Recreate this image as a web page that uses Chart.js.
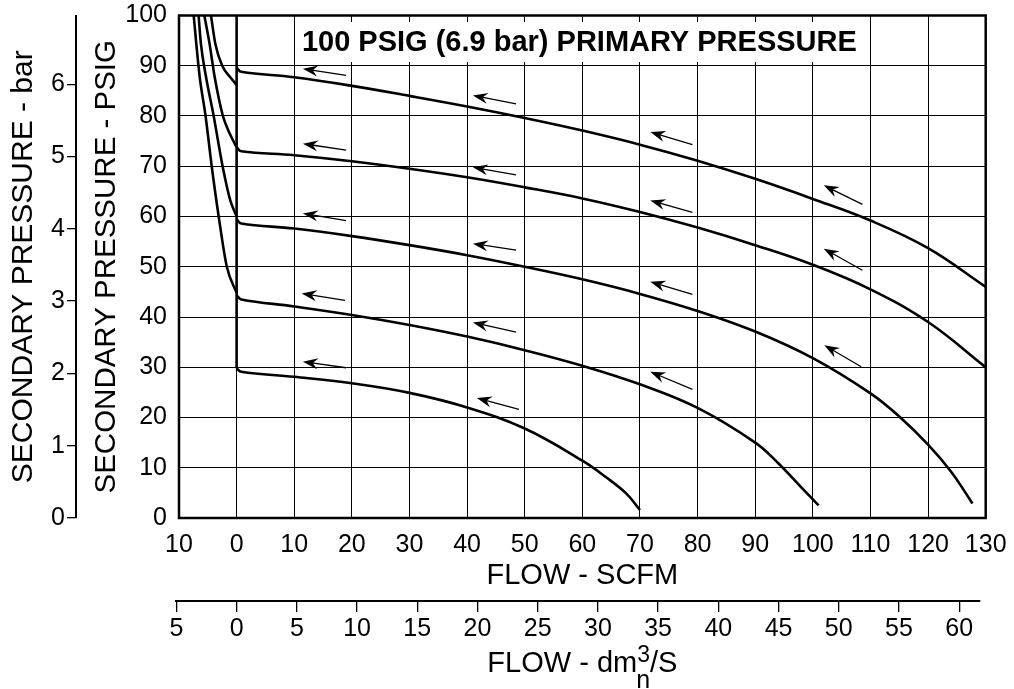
<!DOCTYPE html>
<html lang="en">
<head>
<meta charset="UTF-8">
<title>Secondary pressure vs flow - 100 PSIG primary</title>
<script src="https://cdn.jsdelivr.net/npm/chart.js"></script>
<style>
    body { margin: 0; background: #fff; }
    canvas { display: block; }
</style>
</head>
<body>
<canvas id="flowChart" width="1014" height="689"></canvas>
<script>
// tick labels
const scfmTicks = [-10, 0, 10, 20, 30, 40, 50, 60, 70, 80, 90, 100, 110, 120, 130];
const dmTicks = [-5, 0, 5, 10, 15, 20, 25, 30, 35, 40, 45, 50, 55, 60];
const psigTicks = [0, 10, 20, 30, 40, 50, 60, 70, 80, 90, 100];
const barTicks = [0, 1, 2, 3, 4, 5, 6];
const dmRange = [-5, 61.66];
const scfmPerDm = 2.09;   // as drawn on the lower scale

// common relief line at zero flow
const zeroFlow = [0, 0];
const zeroPsig = [100, 29.8];

// forward flow curves (SCFM, PSIG)
const flow1 = [0, 0.8, 10, 20, 30, 40, 50, 60, 70, 80, 90, 100, 110, 120, 130];
const psig1 = [89.6, 88.8, 87.7, 86.0, 84.0, 81.9, 79.6, 77.1, 74.3, 71.1, 67.5, 63.5, 59.2, 53.7, 46.0];
const flow2 = [0, 0.8, 10, 20, 30, 40, 50, 60, 70, 80, 90, 100, 110, 120, 130];
const psig2 = [73.8, 73.0, 72.2, 71.0, 69.5, 67.8, 65.8, 63.6, 60.9, 57.8, 54.3, 50.4, 45.5, 39.0, 30.0];
const flow3 = [0, 0.8, 10, 20, 30, 40, 50, 60, 70, 80, 90, 100, 110, 115, 120, 124, 127.7];
const psig3 = [59.4, 58.6, 57.6, 56.1, 54.3, 52.3, 50.0, 47.5, 44.6, 41.2, 37.1, 31.8, 24.8, 20.2, 14.6, 9.2, 2.9];
const flow4 = [0, 0.8, 10, 20, 30, 40, 50, 60, 70, 80, 90, 94, 98, 101];
const psig4 = [44.3, 43.5, 42.1, 40.4, 38.4, 36.1, 33.4, 30.3, 26.6, 21.9, 15.0, 10.9, 6.1, 2.5];
const flow5 = [0, 0.8, 10, 20, 30, 40, 50, 60, 64, 67.6, 70];
const psig5 = [29.8, 29.1, 28.1, 26.8, 24.9, 22.0, 17.8, 11.4, 8.2, 4.9, 1.6];

// reverse flow (relief) branches
const relief1Flow = [-4.45, -3.7, -2.5, -1.1, 0];
const relief1Psig = [100, 94.4, 90.0, 87.7, 86.2];
const relief2Flow = [-5.6, -4.7, -3.8, -2.4, -1.2, 0];
const relief2Psig = [100, 94.4, 87.7, 80.1, 76.5, 73.8];
const relief3Flow = [-6.6, -6.2, -5.3, -4.0, -2.4, -1.1, 0];
const relief3Psig = [100, 94.4, 87.7, 80.1, 69.8, 63.2, 60.0];
const relief4Flow = [-7.45, -7.0, -6.4, -5.4, -4.3, -3.1, -1.7, 0];
const relief4Psig = [100, 94.4, 87.7, 80.1, 69.8, 59.9, 50.0, 44.8];

// direction arrows (tail -> head), in SCFM / PSIG
const arrowTailFlow = [19.0, 48.5, 79.1, 108.6, 19.0, 48.5, 79.1, 108.6, 19.0, 48.5, 79.1, 108.4, 18.8, 48.5, 79.1, 19.0, 49.0];
const arrowTailPsig = [88.1, 82.4, 74.3, 62.4, 73.2, 68.3, 60.8, 49.3, 59.2, 53.3, 44.5, 30.1, 43.3, 37.0, 25.6, 29.9, 21.6];
const arrowHeadFlow = [11.5, 41.0, 71.8, 101.9, 11.5, 41.0, 71.8, 101.9, 11.5, 41.0, 71.8, 102.0, 11.3, 41.0, 71.8, 11.5, 41.7];
const arrowHeadPsig = [89.4, 84.1, 76.8, 66.2, 74.5, 69.8, 63.2, 53.6, 60.6, 54.6, 47.0, 34.4, 44.7, 38.9, 29.1, 31.1, 23.9];

const FONT = "'Liberation Sans', Arial, Helvetica, sans-serif";
Chart.defaults.font.family = FONT;
Chart.defaults.color = '#000';

const toPoints = (xs, ys) => xs.map((x, i) => ({ x: x, y: ys[i] }));
const curve = (xs, ys, mode) => ({
    data: toPoints(xs, ys),
    borderColor: '#000',
    borderWidth: 2.6,
    pointRadius: 0,
    fill: false,
    cubicInterpolationMode: mode || 'default',
    tension: 0.4,
    xAxisID: 'x',
    yAxisID: 'y'
});

const ticksFrom = arr => s => { s.ticks = arr.map(v => ({ value: v })); };

// lower flow scale is laid out against the SCFM scale
const dmScalePlugin = {
    id: 'dmScale',
    afterLayout(chart) {
        const x = chart.scales.x, dm = chart.scales.dm;
        dm.left = x.getPixelForValue(dmRange[0] * scfmPerDm);
        dm.right = x.getPixelForValue(dmRange[1] * scfmPerDm);
        dm.width = dm.right - dm.left;
        dm.configure();
    }
};

// title box inside the plot
const titleBoxPlugin = {
    id: 'titleBox',
    beforeDatasetsDraw(chart) {
        const { ctx, chartArea } = chart;
        const text = '100 PSIG (6.9 bar) PRIMARY PRESSURE';
        ctx.save();
        ctx.font = 'bold 29px ' + FONT;
        const w = ctx.measureText(text).width;
        const cx = (chartArea.left + chartArea.right) / 2 - 3;
        ctx.fillStyle = '#fff';
        ctx.fillRect(cx - w / 2 - 5, chartArea.top + 6.5, w + 14, 40);
        ctx.fillStyle = '#000';
        ctx.textAlign = 'center';
        ctx.textBaseline = 'middle';
        ctx.fillText(text, cx, chartArea.top + 27);
        ctx.restore();
    }
};

const framePlugin = {
    id: 'frame',
    afterDatasetsDraw(chart) {
        const { ctx, chartArea, scales } = chart;
        ctx.save();
        // arrows
        ctx.strokeStyle = '#000';
        ctx.fillStyle = '#000';
        ctx.lineWidth = 1.3;
        for (let i = 0; i < arrowTailFlow.length; i++) {
            const x1 = scales.x.getPixelForValue(arrowTailFlow[i]);
            const y1 = scales.y.getPixelForValue(arrowTailPsig[i]);
            const x2 = scales.x.getPixelForValue(arrowHeadFlow[i]);
            const y2 = scales.y.getPixelForValue(arrowHeadPsig[i]);
            const a = Math.atan2(y2 - y1, x2 - x1);
            const ux = Math.cos(a), uy = Math.sin(a);
            ctx.beginPath();
            ctx.moveTo(x1, y1);
            ctx.lineTo(x2 - ux * 9, y2 - uy * 9);
            ctx.stroke();
            ctx.beginPath();
            ctx.moveTo(x2, y2);
            ctx.lineTo(x2 - ux * 15 - uy * 5.5, y2 - uy * 15 + ux * 5.5);
            ctx.lineTo(x2 - ux * 10, y2 - uy * 10);
            ctx.lineTo(x2 - ux * 15 + uy * 5.5, y2 - uy * 15 - ux * 5.5);
            ctx.closePath();
            ctx.fill();
        }
        // plot frame
        ctx.lineWidth = 2.5;
        ctx.strokeRect(chartArea.left, chartArea.top, chartArea.right - chartArea.left, chartArea.bottom - chartArea.top);
        ctx.restore();
    },
    afterDraw(chart) {
        // FLOW - dm3/s with stacked sup/sub like the original
        const { ctx, chartArea } = chart;
        const dm = chart.scales.dm;
        const base = dm.bottom - 17.3;
        ctx.save();
        ctx.fillStyle = '#000';
        ctx.textBaseline = 'alphabetic';
        ctx.textAlign = 'left';
        ctx.font = '29px ' + FONT;
        const main = 'FLOW - dm', tail = '/S';
        const wMain = ctx.measureText(main).width;
        const wTail = ctx.measureText(tail).width;
        ctx.font = '23px ' + FONT;
        const wSup = ctx.measureText('3').width;
        const x0 = (chartArea.left + chartArea.right) / 2 - (wMain + wSup + wTail) / 2;
        ctx.font = '29px ' + FONT;
        ctx.fillText(main, x0, base);
        ctx.fillText(tail, x0 + wMain + wSup, base);
        ctx.font = '23px ' + FONT;
        ctx.fillText('3', x0 + wMain, base - 10);
        ctx.font = '25px ' + FONT;
        ctx.fillText('n', x0 + wMain - 1, base + 16);
        ctx.restore();
    }
};

new Chart(document.getElementById('flowChart'), {
    type: 'line',
    data: {
        datasets: [
            curve(zeroFlow, zeroPsig),
            curve(relief1Flow, relief1Psig, 'monotone'),
            curve(relief2Flow, relief2Psig, 'monotone'),
            curve(relief3Flow, relief3Psig, 'monotone'),
            curve(relief4Flow, relief4Psig, 'monotone'),
            curve(flow1, psig1),
            curve(flow2, psig2),
            curve(flow3, psig3),
            curve(flow4, psig4),
            curve(flow5, psig5)
        ]
    },
    options: {
        responsive: false,
        animation: false,
        events: [],
        layout: { padding: { top: 15.5, right: 28.3, bottom: 0, left: 0 } },
        plugins: { legend: { display: false }, tooltip: { enabled: false } },
        scales: {
            x: {
                type: 'linear',
                position: 'bottom',
                weight: 1,
                min: -10,
                max: 130,
                afterBuildTicks: ticksFrom(scfmTicks),
                afterFit: s => { s.height = 83; s.paddingLeft = 0; s.paddingRight = 0; },
                grid: { color: '#000', lineWidth: 1, drawTicks: false },
                border: { display: false },
                ticks: {
                    autoSkip: false, maxRotation: 0, padding: 12,
                    font: { size: 25 },
                    callback: v => Math.abs(v)
                },
                title: {
                    display: true, text: 'FLOW - SCFM',
                    font: { size: 29 }, padding: { top: 0, bottom: 8 }
                }
            },
            dm: {
                type: 'linear',
                position: 'bottom',
                weight: 2,
                min: dmRange[0],
                max: dmRange[1],
                afterBuildTicks: ticksFrom(dmTicks),
                afterFit: s => { s.height = 88; s.paddingLeft = 0; s.paddingRight = 0; },
                grid: { drawOnChartArea: false, color: '#000', lineWidth: 1.3, tickLength: 11 },
                border: { display: true, color: '#000', width: 2 },
                ticks: {
                    autoSkip: false, maxRotation: 0, padding: 2,
                    font: { size: 25 },
                    callback: v => Math.abs(v)
                }
            },
            y: {
                type: 'linear',
                position: 'left',
                weight: 1,
                min: 0,
                max: 100,
                afterBuildTicks: ticksFrom(psigTicks),
                afterFit: s => { s.width = 103; s.paddingTop = 0; s.paddingBottom = 0; },
                grid: { color: '#000', lineWidth: 1, drawTicks: false },
                border: { display: false },
                ticks: { padding: 12, font: { size: 25 } },
                title: {
                    display: true, text: 'SECONDARY PRESSURE - PSIG',
                    font: { size: 29.5 }, padding: { top: 13.3, bottom: 0 }
                }
            },
            bar: {
                type: 'linear',
                position: 'left',
                weight: 2,
                min: 0,
                max: 6.95,
                afterBuildTicks: ticksFrom(barTicks),
                afterFit: s => { s.width = 76; s.paddingTop = 0; s.paddingBottom = 0; },
                grid: { drawOnChartArea: false, color: '#000', lineWidth: 1.3, tickLength: 9 },
                border: { display: true, color: '#000', width: 2 },
                ticks: { padding: 2, font: { size: 25 } },
                title: {
                    display: true, text: 'SECONDARY PRESSURE - bar',
                    font: { size: 30 }, padding: { top: 5.4, bottom: 0 }
                }
            }
        }
    },
    plugins: [dmScalePlugin, titleBoxPlugin, framePlugin]
});
</script>
</body>
</html>
